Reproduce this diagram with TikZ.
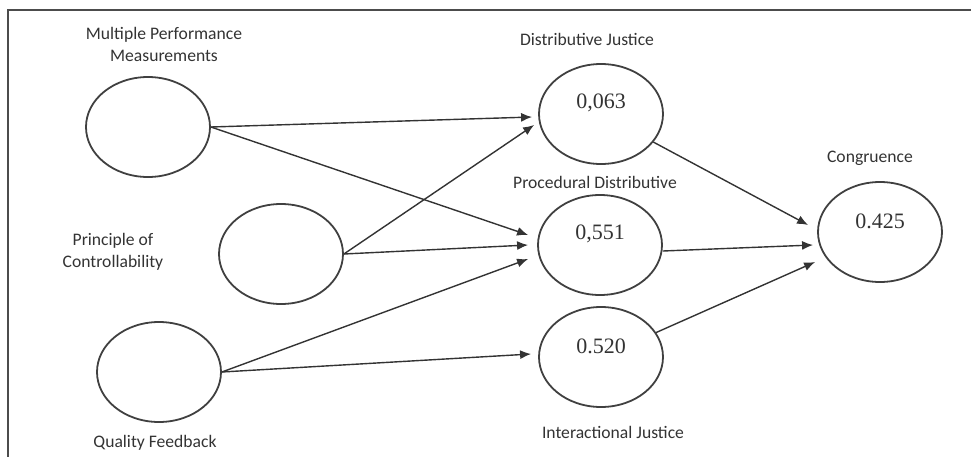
\documentclass[tikz,border=0pt]{standalone}
\usepackage{fontspec}
\setmainfont{Carlito}
\newfontfamily\numfont{Liberation Serif}
\usetikzlibrary{shapes.geometric,arrows.meta}

\begin{document}
\begin{tikzpicture}[x=0.5pt, y=-0.5pt,
    var_node/.style={ellipse,draw=black!75,line width=0.9pt,minimum width=62pt,minimum height=50pt,inner sep=0pt},
    val_text/.style={font=\numfont\fontsize{11}{13}\selectfont,text=black!80,yshift=5.5pt},
    name_text/.style={font=\fontsize{8.8}{11}\selectfont,text=black!80,align=center},
    path_arrow/.style={draw=black!80,line width=0.7pt,-{Latex[length=5.5pt,width=4.5pt]}}]

    \useasboundingbox (0,0) rectangle (971,456);
    \draw[black!70,line width=1pt] (990,10) -- (8,10) -- (8,470);

    \node[var_node] (mpm) at (148,127) {};
    \node[var_node] (poc) at (281,254) {};
    \node[var_node] (qf) at (159,372) {};
    \node[var_node,label={[val_text]center:0,063}] (dj) at (601,114) {};
    \node[var_node,label={[val_text]center:0,551}] (pd) at (600,245) {};
    \node[var_node,label={[val_text]center:0.520}] (ij) at (601,357) {};
    \node[var_node,label={[val_text]center:0.425}] (cong) at (880,232) {};

    \node[name_text] (mpm_lbl) at (164,44) {Multiple Performance\\Measurements};
    \node[name_text] (poc_lbl) at (113,252) {Principle of\\Controllability};
    \node[name_text] (qf_lbl) at (155,443) {Quality Feedback};
    \node[name_text] (dj_lbl) at (587,39) {Distributive Justice};
    \node[name_text] (pd_lbl) at (595,182) {Procedural Distributive};
    \node[name_text] (ij_lbl) at (613,432) {Interactional Justice};
    \node[name_text] (cong_lbl) at (870,158) {Congruence};

    \draw[path_arrow] (mpm.east) -- ([shift={(-6,3)}]dj.west);
    \draw[path_arrow] (mpm.east) -- ([shift={(-9,-10)}]pd.west);
    \draw[path_arrow] (poc.east) -- ([shift={(-4,11)}]dj.west);
    \draw[path_arrow] (poc.east) -- ([shift={(-9,0)}]pd.west);
    \draw[path_arrow] (qf.east) -- ([shift={(-9,14)}]pd.west);
    \draw[path_arrow] (qf.east) -- ([shift={(-7,-3)}]ij.west);
    \draw[path_arrow] (dj) -- ([shift={(-9,-7)}]cong.west);
    \draw[path_arrow] ([shift={(0,6)}]pd.east) -- ([shift={(-4,13)}]cong.west);
    \draw[path_arrow] (ij) -- ([shift={(-2,30)}]cong.west);
\end{tikzpicture}
\end{document}
